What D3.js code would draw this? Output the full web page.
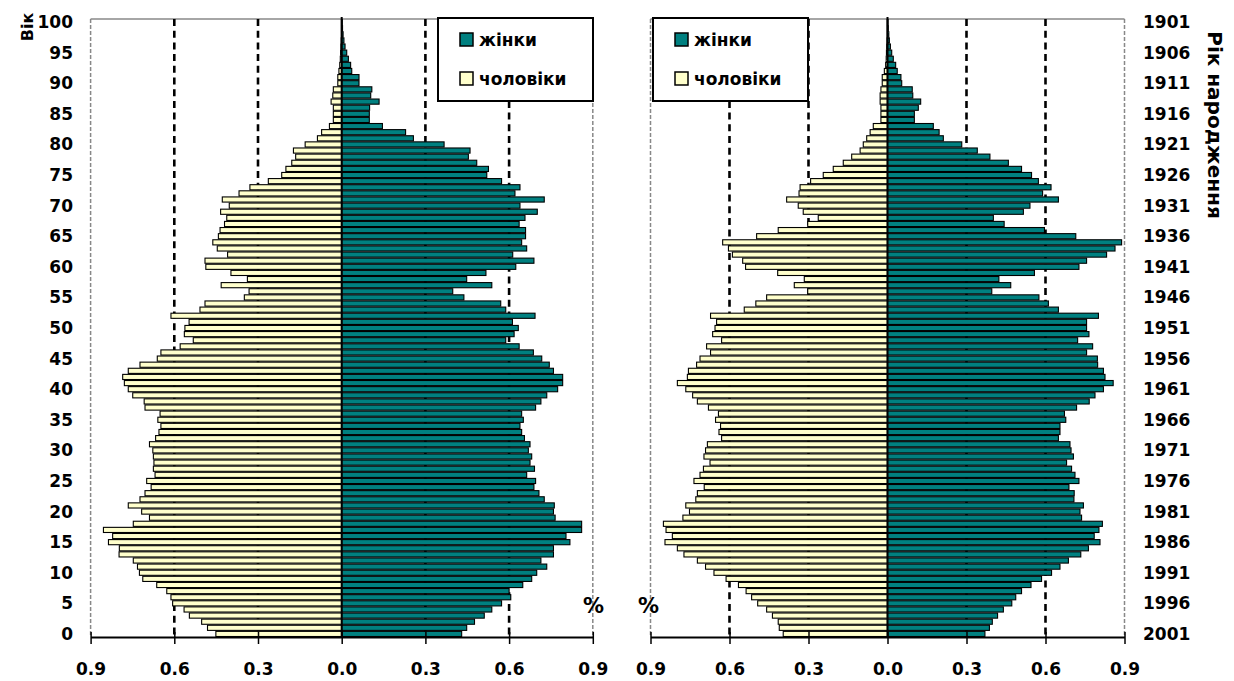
<!DOCTYPE html>
<html><head><meta charset="utf-8">
<script src="https://cdn.jsdelivr.net/npm/d3@7"></script>
<style>
body{margin:0;background:#fff}
text{font-family:"DejaVu Sans",sans-serif;font-weight:bold;fill:#000}
</style></head>
<body><svg id="c" width="1234" height="681"></svg>
<script>
const ages = d3.range(0, 101);
// values in % by age 0..100
const leftWomen = [0.43,0.448,0.476,0.511,0.538,0.573,0.606,0.60,0.649,0.681,
0.699,0.735,0.714,0.759,0.759,0.818,0.804,0.86,0.86,0.765,
0.759,0.762,0.726,0.707,0.689,0.695,0.663,0.691,0.675,0.681,
0.669,0.675,0.655,0.645,0.639,0.651,0.645,0.695,0.714,0.735,
0.774,0.792,0.792,0.759,0.744,0.717,0.687,0.636,0.588,0.618,
0.633,0.612,0.693,0.588,0.57,0.438,0.398,0.538,0.448,0.517,
0.624,0.689,0.613,0.663,0.645,0.659,0.659,0.636,0.657,0.701,
0.639,0.726,0.621,0.639,0.573,0.52,0.526,0.484,0.454,0.46,
0.367,0.257,0.229,0.146,0.099,0.099,0.10,0.134,0.104,0.108,
0.062,0.062,0.036,0.032,0.024,0.018,0.012,0.008,0.005,0.003,0.002];
const leftMen = [0.451,0.481,0.502,0.546,0.565,0.606,0.612,0.627,0.663,0.713,
0.725,0.732,0.747,0.798,0.797,0.836,0.821,0.854,0.747,0.689,
0.717,0.765,0.723,0.705,0.683,0.699,0.669,0.675,0.673,0.675,
0.677,0.689,0.667,0.655,0.648,0.659,0.651,0.705,0.708,0.749,
0.765,0.779,0.785,0.765,0.723,0.661,0.648,0.579,0.532,0.564,
0.562,0.547,0.612,0.508,0.49,0.349,0.332,0.432,0.338,0.397,
0.487,0.49,0.409,0.446,0.462,0.442,0.436,0.42,0.412,0.434,
0.403,0.428,0.368,0.329,0.263,0.215,0.20,0.179,0.165,0.173,
0.131,0.087,0.072,0.044,0.03,0.03,0.03,0.038,0.032,0.03,
0.014,0.014,0.01,0.007,0.005,0.004,0.003,0.002,0.001,0.001,0.001];
const rightWomen = [0.37,0.387,0.398,0.418,0.44,0.472,0.487,0.509,0.545,0.585,
0.623,0.655,0.687,0.734,0.763,0.807,0.785,0.803,0.816,0.737,
0.731,0.744,0.708,0.709,0.689,0.727,0.712,0.699,0.68,0.706,
0.697,0.693,0.649,0.655,0.655,0.677,0.672,0.718,0.766,0.788,
0.82,0.857,0.826,0.82,0.798,0.797,0.756,0.779,0.722,0.765,
0.756,0.756,0.801,0.649,0.611,0.575,0.396,0.468,0.423,0.558,
0.727,0.756,0.832,0.864,0.889,0.715,0.596,0.443,0.402,0.516,
0.541,0.649,0.589,0.621,0.573,0.547,0.509,0.459,0.389,0.341,
0.282,0.212,0.196,0.174,0.102,0.102,0.117,0.126,0.096,0.094,
0.054,0.051,0.037,0.031,0.022,0.016,0.011,0.007,0.005,0.003,0.002];
const rightMen = [0.396,0.411,0.415,0.437,0.459,0.493,0.516,0.537,0.566,0.613,
0.659,0.691,0.722,0.773,0.798,0.845,0.817,0.841,0.851,0.777,
0.752,0.766,0.728,0.722,0.696,0.735,0.712,0.699,0.674,0.697,
0.691,0.684,0.63,0.64,0.634,0.653,0.642,0.68,0.722,0.74,
0.766,0.798,0.76,0.756,0.725,0.712,0.672,0.687,0.63,0.664,
0.655,0.649,0.672,0.544,0.5,0.459,0.303,0.354,0.316,0.417,
0.539,0.55,0.589,0.604,0.626,0.497,0.415,0.303,0.263,0.32,
0.339,0.383,0.336,0.332,0.292,0.244,0.206,0.168,0.136,0.104,
0.092,0.079,0.066,0.054,0.025,0.025,0.025,0.028,0.028,0.025,
0.02,0.02,0.012,0.007,0.005,0.004,0.003,0.002,0.001,0.001,0.001];
const xTicks = [-0.9, -0.6, -0.3, 0, 0.3, 0.6, 0.9];
const gridValues = [-0.6, -0.3, 0.3, 0.6];
const ageTicks = d3.range(0, 101, 5);
const yearTicks = ageTicks.map(a => 2001 - a);
const legendLabels = ["жінки", "чоловіки"];
const colWomen = "#008080", colMen = "#FFFFCC";

const svg = d3.select("#c");
const plotTop = 19, plotBottom = 637;
const y = d3.scaleBand().domain(ages.slice().reverse()).range([plotTop, plotBottom]);
const bh = y.bandwidth() * 0.84;
const off = (y.bandwidth() - bh) / 2;

function pyramid(x0, x1, women, men, lg) {
  const x = d3.scaleLinear().domain([-0.9, 0.9]).range([x0, x1]);
  const g = svg.append("g");
  g.append("line").attr("x1", x0).attr("x2", x1).attr("y1", plotTop).attr("y2", plotTop)
    .attr("stroke", "#888").attr("stroke-width", 1.5);
  [x0, x1].forEach(xx => g.append("line").attr("x1", xx).attr("x2", xx)
    .attr("y1", plotTop).attr("y2", plotBottom).attr("stroke", "#888")
    .attr("stroke-width", 1.5).attr("stroke-dasharray", "4,2"));
  g.selectAll(".grid").data(gridValues).enter().append("line")
    .attr("x1", d => x(d)).attr("x2", d => x(d)).attr("y1", plotTop).attr("y2", plotBottom)
    .attr("stroke", "#000").attr("stroke-width", 2.6).attr("stroke-dasharray", "7,4.7");
  g.selectAll(".m").data(ages).enter().append("rect")
    .attr("x", a => x(-men[a])).attr("width", a => x(0) - x(-men[a]))
    .attr("y", a => y(a) + off).attr("height", bh)
    .attr("fill", colMen).attr("stroke", "#000").attr("stroke-width", 1.1);
  g.selectAll(".w").data(ages).enter().append("rect")
    .attr("x", x(0)).attr("width", a => x(women[a]) - x(0))
    .attr("y", a => y(a) + off).attr("height", bh)
    .attr("fill", colWomen).attr("stroke", "#000").attr("stroke-width", 1.1);
  g.append("line").attr("x1", x(0)).attr("x2", x(0)).attr("y1", plotTop - 2).attr("y2", plotBottom)
    .attr("stroke", "#000").attr("stroke-width", 2);
  const ax = g.append("g").attr("transform", `translate(0,${plotBottom})`)
    .call(d3.axisBottom(x).tickValues(xTicks).tickSizeOuter(0)
      .tickFormat(d => Math.abs(d).toFixed(1)));
  ax.select(".domain").attr("stroke", "#000").attr("stroke-width", 2);
  ax.selectAll(".tick line").attr("y1", -5).attr("y2", 7).attr("stroke", "#000").attr("stroke-width", 1.5);
  ax.selectAll(".tick text").attr("y", 38).attr("dy", null)
    .style("font-family", '"DejaVu Sans",sans-serif').style("font-weight", "bold")
    .style("font-size", "17px").attr("fill", "#000");
  const L = g.append("g");
  L.append("rect").attr("x", lg.x).attr("y", 18).attr("width", 155).attr("height", 83)
    .attr("fill", "#fff").attr("stroke", "#000").attr("stroke-width", 2);
  [colWomen, colMen].forEach((c, i) => {
    const yy = 39.5 + i * 39;
    L.append("rect").attr("x", lg.x + 22).attr("y", yy - 6.5).attr("width", 13).attr("height", 13)
      .attr("fill", c).attr("stroke", "#000").attr("stroke-width", 1.5);
    L.append("text").attr("x", lg.x + 41).attr("y", yy).attr("dominant-baseline", "central")
      .style("font-size", "17px").text(legendLabels[i]);
  });
  return x;
}

pyramid(90.6, 592.8, leftWomen, leftMen, {x: 438});
pyramid(650.5, 1124.5, rightWomen, rightMen, {x: 653});

svg.selectAll(".age").data(ageTicks).enter().append("text")
  .attr("x", 73).attr("y", a => y(a) + y.bandwidth() / 2)
  .attr("text-anchor", "end").attr("dominant-baseline", "central")
  .style("font-size", "17px").text(a => a);
svg.selectAll(".yr").data(ageTicks).enter().append("text")
  .attr("x", 1143).attr("y", a => y(a) + y.bandwidth() / 2)
  .attr("dominant-baseline", "central")
  .style("font-size", "17px").text((a, i) => yearTicks[i]);
svg.append("text").attr("transform", "translate(27,27) rotate(-90)")
  .attr("text-anchor", "middle").attr("dominant-baseline", "central")
  .style("font-size", "16px").text("Вік");
svg.append("text").attr("transform", "translate(1215,125) rotate(90)")
  .attr("text-anchor", "middle").attr("dominant-baseline", "central")
  .style("font-size", "20px").text("Рік народження");
[593.5, 648.5].forEach(xx => svg.append("text").attr("x", xx).attr("y", 606)
  .attr("text-anchor", "middle").attr("dominant-baseline", "central")
  .style("font-size", "21px").text("%"));
</script></body></html>
